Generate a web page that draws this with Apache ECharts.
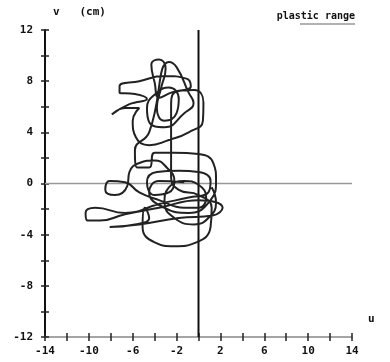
<!DOCTYPE html>
<html>
<head>
<meta charset="utf-8">
<script src="https://cdn.jsdelivr.net/npm/echarts@6/dist/echarts.min.js"></script>
<style>
  html, body { margin: 0; padding: 0; background: #fff; }
  #chart { width: 390px; height: 362px; }
</style>
</head>
<body>
<div id="chart"></div>
<script>
// orbit of the top (u, v) in cm
const orbitU = [1.2, 1.6, 0.9, -0.4, -2.2, -3.1, -2.7, -1.3, 0, 0.7, 0, -1.3, -3.6, -5.4, -6.7, -8.1, -8.5, -7.6, -6.5, -6.3,
  -5.4, -4.0, -2.9, -2.2, -2.7, -4.0, -4.7, -3.8, -1.8, 0, 1.1, 0.9, -0.9, -3.6, -6.7, -9.4, -10.3, -10.1, -9.0, -6.7,
  -3.6, 0, 2.2, 1.3, -1.8, -5.4, -8.1, -5.8, -4.5, -4.9, -5.1, -4.0, -2.2, -0.2, 1.1, 1.2, 0, -1.8, -2.5, -2.5,
  -2.5, -2.2, -0.4, 0.45, 0.4, -0.9, -2.7, -4.5, -5.7, -6.0, -5.4, -6.7, -7.9, -6.3, -4.7, -5.8, -7.2, -7.2, -5.4, -3.1,
  -1.1, -0.7, -2.5, -3.6, -4.0, -4.3, -3.6, -3.0, -3.4, -3.8, -3.1, -2.0, -1.8, -2.7, -3.8, -4.7, -4.5, -3.1, -1.3, -0.45,
  -0.9, -2.0, -2.7, -4.5, -5.8, -5.6, -4.5, -4.0, -2.2, 0, 1.35, 1.6, 1.1, -0.9, -3.1, -4.5, -3.6, -1.3];
const orbitV = [-0.3, -1.5, -2.7, -3.2, -2.7, -1.5, -0.3, 0.2, -0.1, -1.1, -1.9, -1.9, -1.3, -0.7, 0.1, 0.2, -0.5, -0.9, -0.2, 0.9,
  1.6, 1.8, 1.25, 0.2, -0.7, -0.9, 0.1, 0.9, 1.0, 0.9, 0.2, -0.7, -1.1, -1.6, -2.3, -1.9, -2.3, -2.9, -2.9, -2.4,
  -1.9, -1.3, -1.9, -2.5, -2.7, -3.2, -3.4, -3.2, -2.7, -1.9, -3.4, -4.6, -4.9, -4.6, -3.4, -1.9, -0.9, -0.5, 0.5, 3.2,
  5.9, 7.1, 7.3, 6.3, 4.9, 4.0, 3.4, 3.0, 3.6, 4.9, 5.9, 5.9, 5.4, 6.2, 6.6, 7.0, 7.1, 7.6, 8.0, 8.4,
  8.2, 7.6, 7.1, 6.7, 7.9, 9.3, 9.7, 9.0, 7.5, 5.9, 4.9, 5.5, 6.6, 7.5, 7.1, 5.9, 4.8, 4.4, 5.5, 6.3,
  7.1, 9.1, 9.5, 4.0, 2.6, 1.25, 1.25, 2.4, 2.4, 2.3, 1.6, 0.2, -1.3, -2.3, -1.9, -0.7, 0.2, 0.1];

const uRange = [-14, 14];
const vRange = [-12, 12];
const plasticU = [-14, 14];   // gray line along v = 0
const plasticV = [0, 0];
const centreU = [0, 0];       // vertical line at u = 0
const centreV = [-12, 12];

const uLabels = [-14, -10, -6, -2, 2, 6, 10, 14];
const vLabels = [12, 8, 4, 0, -4, -8, -12];

const font = 'DejaVu Sans Mono';

const orbit = orbitU.map((u, i) => [u, orbitV[i]]);
const plastic = plasticU.map((u, i) => [u, plasticV[i]]);
const centre = centreU.map((u, i) => [u, centreV[i]]);

const chart = echarts.init(document.getElementById('chart'), null, { renderer: 'canvas' });

const labelStyle = {
  fontFamily: font,
  fontWeight: 'bold',
  fontSize: 11,
  color: '#111'
};

const option = {
  animation: false,
  backgroundColor: '#fff',
  grid: { left: 45, right: 38, top: 30, bottom: 25 },
  xAxis: [
    {
      type: 'value',
      min: uRange[0], max: uRange[1], interval: 2,
      name: 'u',
      nameLocation: 'end',
      nameGap: 16,
      nameTextStyle: Object.assign({}, labelStyle, { verticalAlign: 'bottom', padding: [0, 0, 12, 0] }),
      axisLine: { onZero: false, lineStyle: { color: '#888', width: 1.5 } },
      axisTick: { length: 4, lineStyle: { color: '#222', width: 1.5 } },
      axisLabel: Object.assign({}, labelStyle, {
        margin: 9,
        formatter: v => uLabels.includes(v) ? String(v) : ''
      }),
      splitLine: { show: false }
    },
    {
      // second copy only for the upper half of the crossing ticks
      type: 'value',
      position: 'bottom',
      min: uRange[0], max: uRange[1], interval: 2,
      axisLine: { show: false, onZero: false },
      axisTick: { inside: true, length: 4, lineStyle: { color: '#222', width: 1.5 } },
      axisLabel: { show: false },
      splitLine: { show: false }
    }
  ],
  yAxis: [
    {
      type: 'value',
      min: vRange[0], max: vRange[1], interval: 2,
      name: 'v   (cm)',
      nameLocation: 'end',
      nameGap: 12,
      nameTextStyle: Object.assign({}, labelStyle, { align: 'left', padding: [0, 0, 0, 8] }),
      axisLine: { onZero: false, lineStyle: { color: '#111', width: 2 } },
      axisTick: { length: 4, lineStyle: { color: '#222', width: 1.5 } },
      axisLabel: Object.assign({}, labelStyle, {
        margin: 12,
        formatter: v => vLabels.includes(v) ? String(v) : ''
      }),
      splitLine: { show: false }
    },
    {
      type: 'value',
      position: 'left',
      min: vRange[0], max: vRange[1], interval: 2,
      axisLine: { show: false, onZero: false },
      axisTick: { inside: true, length: 4, lineStyle: { color: '#222', width: 1.5 } },
      axisLabel: { show: false },
      splitLine: { show: false }
    }
  ],
  legend: {
    right: 30,
    top: 6,
    itemWidth: 0,
    itemHeight: 0,
    itemGap: 0,
    textStyle: Object.assign({}, labelStyle, { fontSize: 10 }),
    data: [{ name: 'plastic range', icon: 'none' }]
  },
  graphic: [
    {
      // short gray underline of the legend entry
      type: 'line',
      shape: { x1: 300, y1: 24, x2: 355, y2: 24 },
      style: { stroke: '#999', lineWidth: 1.5 }
    }
  ],
  series: [
    {
      name: 'plastic range',
      type: 'line',
      data: plastic,
      symbol: 'none',
      lineStyle: { color: '#999', width: 1.5 },
      z: 1
    },
    {
      name: 'centre',
      type: 'line',
      data: centre,
      symbol: 'none',
      lineStyle: { color: '#111', width: 2 },
      z: 2
    },
    {
      name: 'orbit',
      type: 'line',
      data: orbit,
      symbol: 'none',
      smooth: 0.5,
      lineStyle: { color: '#222', width: 2 },
      z: 3
    }
  ]
};

chart.setOption(option);
</script>
</body>
</html>
